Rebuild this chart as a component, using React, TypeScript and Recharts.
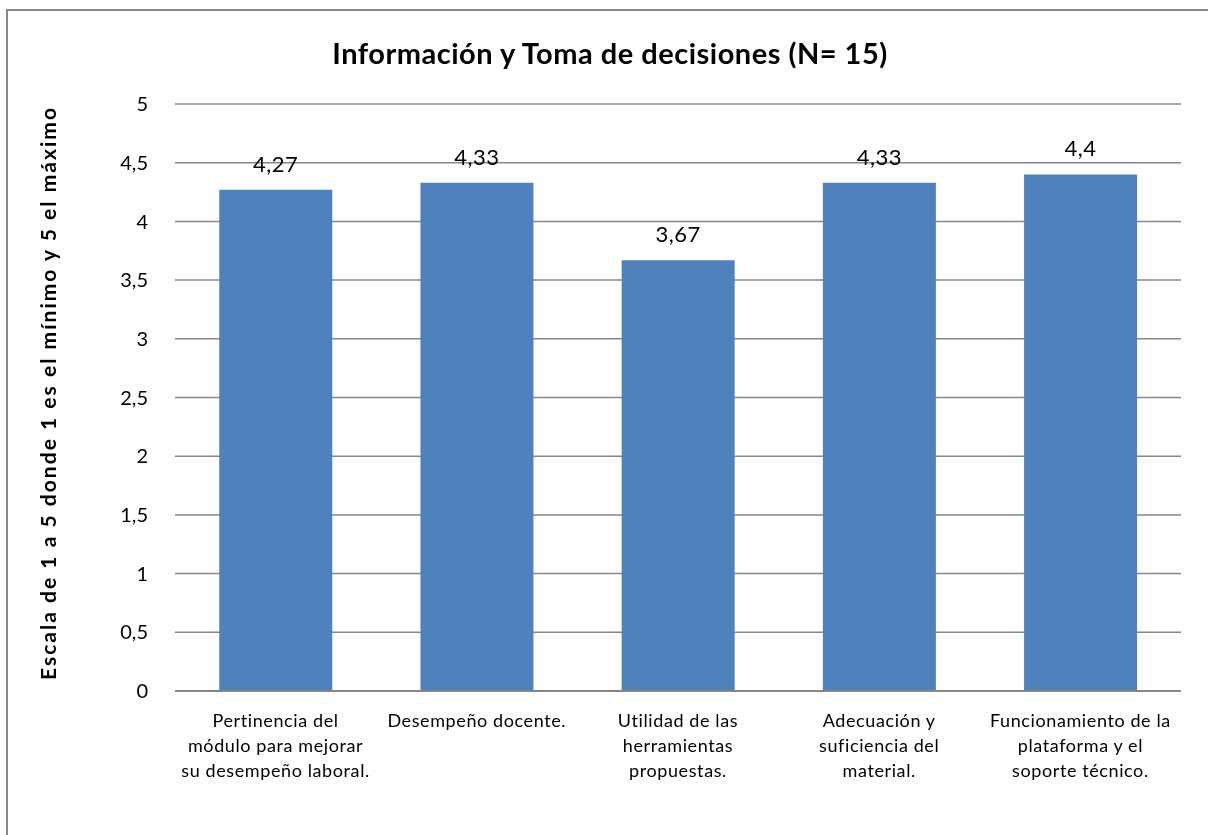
import React from 'react';
import { BarChart, Bar, XAxis, YAxis, CartesianGrid, LabelList } from 'recharts';

const categories = [
  'Pertinencia del\nmódulo para mejorar\nsu desempeño laboral.',
  'Desempeño docente.',
  'Utilidad de las\nherramientas\npropuestas.',
  'Adecuación y\nsuficiencia del\nmaterial.',
  'Funcionamiento de la\nplataforma y el\nsoporte técnico.',
];
const scores = [4.27, 4.33, 3.67, 4.33, 4.4];
const yTicks = [0, 0.5, 1, 1.5, 2, 2.5, 3, 3.5, 4, 4.5, 5];

const title = 'Información y Toma de decisiones (N= 15)';
const yTitle = 'Escala  de 1 a 5 donde 1 es el mínimo y 5 el máximo';

const FONT = 'Lato, "Open Sans", sans-serif';

const comma = (v: number) => String(v).replace('.', ',');

const data = categories.map((name, i) => ({ name, value: scores[i] }));

// multi-line category label under each bar
function CategoryTick(props: any) {
  const { x, y, payload } = props;
  const lines = String(payload.value).split('\n');
  return (
    <g>
      {lines.map((line: string, i: number) => (
        <text
          key={i}
          x={x}
          y={y + 36 + i * 25}
          textAnchor="middle"
          fontFamily={FONT}
          fontSize={18}
          letterSpacing={0.6}
          fill="#000"
        >
          {line}
        </text>
      ))}
    </g>
  );
}

function ValueLabel(props: any) {
  const { x, y, width, value } = props;
  return (
    <text
      x={x + width / 2}
      y={y - 18}
      textAnchor="middle"
      fontFamily={FONT}
      fontSize={22}
      letterSpacing={0.5}
      fill="#000"
    >
      {comma(value)}
    </text>
  );
}

export default function App() {
  return (
    <div style={{ position: 'relative', width: 1192, height: 819 }}>
      {/* chart area frame, runs off the right and bottom of the window */}
      <div
        style={{
          position: 'fixed',
          left: 6,
          top: 9,
          width: 1260,
          height: 900,
          border: '2px solid #898989',
          boxSizing: 'border-box',
          pointerEvents: 'none',
        }}
      />
      <svg
        width={1192}
        height={819}
        style={{ position: 'absolute', left: 0, top: 0 }}
      >
        <text
          x={602}
          y={44}
          textAnchor="middle"
          dominantBaseline="central"
          fontFamily={FONT}
          fontWeight="bold"
          fontSize={29}
          letterSpacing={0.5}
          fill="#000"
        >
          {title}
        </text>
        <text
          x={39}
          y={386}
          transform="rotate(-90 39 386)"
          textAnchor="middle"
          dominantBaseline="central"
          fontFamily={FONT}
          fontWeight="bold"
          fontSize={21}
          textLength={572}
          lengthAdjust="spacing"
          fill="#000"
        >
          {yTitle}
        </text>
      </svg>
      <div style={{ position: 'absolute', left: 0, top: 0 }}>
        <BarChart
          width={1192}
          height={819}
          data={data}
          margin={{ top: 96, right: 19, left: 0, bottom: 0 }}
          barCategoryGap="22%"
        >
          <CartesianGrid vertical={false} stroke="#868686" strokeWidth={1.5} />
          <XAxis
            dataKey="name"
            height={136}
            interval={0}
            tickLine={false}
            tickSize={0}
            tickMargin={0}
            axisLine={{ stroke: '#868686', strokeWidth: 2 }}
            tick={<CategoryTick />}
          />
          <YAxis
            width={167}
            domain={[0, 5]}
            ticks={yTicks}
            tickFormatter={comma}
            axisLine={false}
            tickLine={false}
            tickSize={0}
            tickMargin={27}
            tick={{ fontFamily: FONT, fontSize: 20, fill: '#000' }}
          />
          <Bar dataKey="value" fill="#4F81BD" isAnimationActive={false}>
            <LabelList dataKey="value" content={<ValueLabel />} />
          </Bar>
        </BarChart>
      </div>
    </div>
  );
}
